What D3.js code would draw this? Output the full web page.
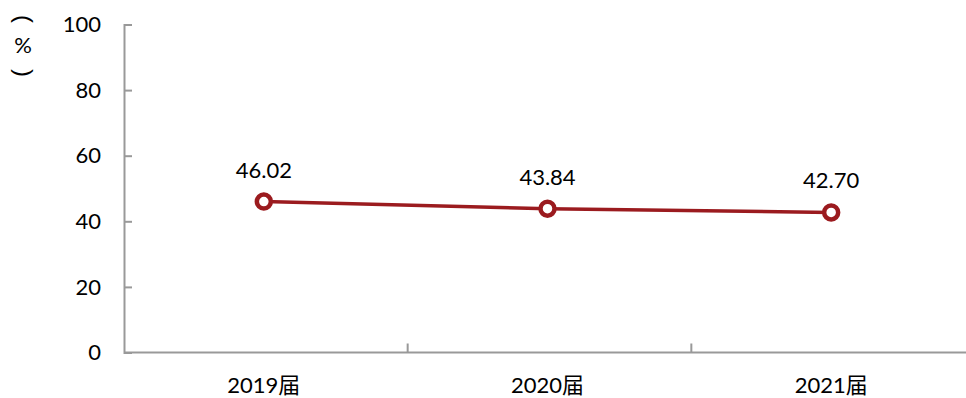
<!DOCTYPE html>
<html>
<head>
<meta charset="utf-8">
<script src="https://cdn.jsdelivr.net/npm/d3@7"></script>
<style>
  body { margin: 0; background: #fff; }
  text { font-family: Lato, "Noto Sans CJK SC", sans-serif; }
</style>
</head>
<body>
<div id="chart"></div>
<script>
const categories = ["2019届", "2020届", "2021届"];
const values = [46.02, 43.84, 42.70];
const yTicks = [0, 20, 40, 60, 80, 100];

const width = 966, height = 398;
const margin = { left: 124, right: -9, top: 24.5, bottom: 45.5 };

const svg = d3.select("#chart")
  .append("svg")
  .attr("width", width)
  .attr("height", height);

const x = d3.scaleBand()
  .domain(categories)
  .range([margin.left, width - margin.right])
  .padding(0);

const y = d3.scaleLinear()
  .domain([0, 100])
  .range([height - margin.bottom, margin.top]);

const axisColor = "#999";
const lineColor = "#9b1b1f";

// y axis
const yAxis = svg.append("g")
  .attr("transform", `translate(${margin.left},0)`)
  .call(d3.axisRight(y).tickValues(yTicks).tickSize(8).tickFormat(""));
yAxis.select(".domain").attr("stroke", axisColor).attr("stroke-width", 2);
yAxis.selectAll(".tick line").attr("stroke", axisColor).attr("stroke-width", 2);

svg.append("g")
  .selectAll("text")
  .data(yTicks)
  .join("text")
  .attr("x", 101)
  .attr("y", d => y(d))
  .attr("dy", "0.35em")
  .attr("text-anchor", "end")
  .attr("font-size", 22)
  .attr("fill", "#000")
  .text(d => d);

// x axis
const xBounds = categories.map(c => x(c)).concat([x(categories[2]) + x.bandwidth()]);
const xAxis = svg.append("g")
  .attr("transform", `translate(0,${y(0)})`);
xAxis.append("line")
  .attr("x1", margin.left)
  .attr("x2", width)
  .attr("stroke", axisColor)
  .attr("stroke-width", 2);
xAxis.selectAll(".tk")
  .data(xBounds.slice(1, 3))
  .join("line")
  .attr("class", "tk")
  .attr("x1", d => d)
  .attr("x2", d => d)
  .attr("y1", 0)
  .attr("y2", -9)
  .attr("stroke", axisColor)
  .attr("stroke-width", 2);

const cx = d => x(d) + x.bandwidth() / 2 - 2;

svg.append("g")
  .selectAll("text")
  .data(categories)
  .join("text")
  .attr("x", d => cx(d))
  .attr("y", 393)
  .attr("text-anchor", "middle")
  .attr("font-size", 22)
  .attr("fill", "#000")
  .text(d => d);

// y axis title: "（%）" written vertically
const titleFont = "'Liberation Sans', sans-serif";
svg.append("text")
  .attr("transform", "translate(24,19) rotate(90)")
  .attr("text-anchor", "middle")
  .attr("dominant-baseline", "central")
  .attr("font-size", 24)
  .attr("fill", "#000")
  .style("font-family", titleFont)
  .text("(");
svg.append("text")
  .attr("x", 23)
  .attr("y", 45)
  .attr("dy", "0.35em")
  .attr("text-anchor", "middle")
  .attr("font-size", 22)
  .attr("fill", "#000")
  .text("%");
svg.append("text")
  .attr("transform", "translate(24,73) rotate(90)")
  .attr("text-anchor", "middle")
  .attr("dominant-baseline", "central")
  .attr("font-size", 24)
  .attr("fill", "#000")
  .style("font-family", titleFont)
  .text(")");

// line
const line = d3.line()
  .x((d, i) => cx(categories[i]))
  .y(d => y(d));

svg.append("path")
  .datum(values)
  .attr("d", line)
  .attr("fill", "none")
  .attr("stroke", lineColor)
  .attr("stroke-width", 3.5);

svg.append("g")
  .selectAll("circle")
  .data(values)
  .join("circle")
  .attr("cx", (d, i) => cx(categories[i]))
  .attr("cy", d => y(d))
  .attr("r", 7)
  .attr("fill", "#fff")
  .attr("stroke", lineColor)
  .attr("stroke-width", 4.5);

svg.append("g")
  .selectAll("text")
  .data(values)
  .join("text")
  .attr("x", (d, i) => cx(categories[i]))
  .attr("y", d => y(d) - 24)
  .attr("text-anchor", "middle")
  .attr("font-size", 22)
  .attr("fill", "#000")
  .text(d => d.toFixed(2));
</script>
</body>
</html>
